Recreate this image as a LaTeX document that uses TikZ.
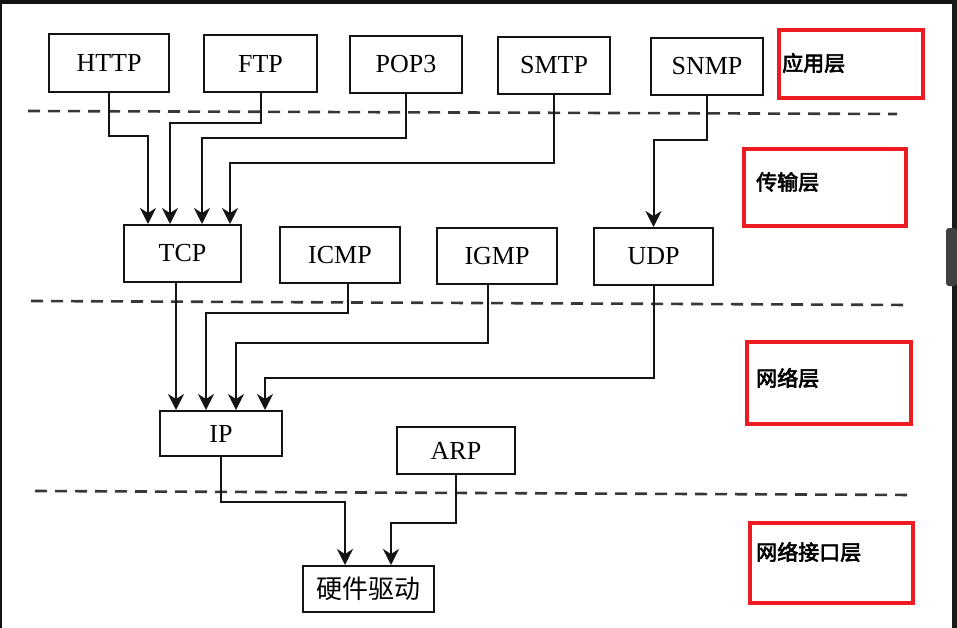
\documentclass[tikz,border=0pt]{standalone}
\usepackage{fontspec}
\setmainfont{Liberation Serif}
\newfontfamily\cjkb[FakeBold=3]{Noto Sans CJK SC}
\newfontfamily\cjk{Noto Sans CJK SC}
\usetikzlibrary{arrows.meta}
\definecolor{redbox}{RGB}{237,28,36}
\definecolor{ink}{RGB}{20,20,20}
\begin{document}
\begin{tikzpicture}[x=1pt,y=-1pt,
  box/.style={draw=ink, line width=2pt, inner sep=0pt, font=\fontsize{26}{26}\selectfont},
  conn/.style={draw=ink, line width=2pt, -{Stealth[length=16pt,width=16pt,inset=5pt]}},
  layerline/.style={draw=ink!85, line width=2.6pt, dash pattern=on 12pt off 8pt},
  redframe/.style={draw=redbox, line width=4pt},
  layerlabel/.style={anchor=west, inner sep=0pt, font=\cjkb\fontsize{21}{21}\selectfont}]
\useasboundingbox (0,0) rectangle (957,628);
\fill[white] (0,0) rectangle (957,628);
% screenshot frame
\fill[black!93] (0,0) rectangle (957,4);
\fill[black!93] (0,0) rectangle (2,628);
\fill[black!90] (952,0) rectangle (957,628);
\fill[black!75, rounded corners=3pt] (946,228) rectangle (957,286);

% layer separators
\draw[layerline] (28,111) -- (897,114);
\draw[layerline] (31,301) -- (910,305);
\draw[layerline] (35,491) -- (914,495);

% application layer
\node[box, minimum width=120pt, minimum height=58pt] (http) at (109,63) {HTTP};
\node[box, minimum width=113pt, minimum height=57pt] (ftp) at (260.5,63.5) {FTP};
\node[box, minimum width=112pt, minimum height=57pt] (pop) at (406,64.5) {POP3};
\node[box, minimum width=112pt, minimum height=57pt] (smtp) at (554,65.5) {SMTP};
\node[box, minimum width=112pt, minimum height=57pt] (snmp) at (707,66.5) {SNMP};

% transport layer
\node[box, minimum width=117pt, minimum height=57pt] (tcp) at (182.5,253.5) {TCP};
\node[box, minimum width=120pt, minimum height=56pt] (icmp) at (340,255) {ICMP};
\node[box, minimum width=120pt, minimum height=56pt] (igmp) at (497,256) {IGMP};
\node[box, minimum width=119pt, minimum height=57pt] (udp) at (653.5,256.5) {UDP};

% network layer
\node[box, minimum width=122pt, minimum height=45pt] (ip) at (221,433.5) {IP};
\node[box, minimum width=118pt, minimum height=47pt] (arp) at (456,450.5) {ARP};

% interface layer
\node[box, minimum width=131pt, minimum height=46pt, font=\cjk\fontsize{26}{26}\selectfont] (hw) at (368.5,589) {硬件驱动};

% connectors to TCP
\draw[conn] (http.south) -- (http.south |- 0,136) -| ([xshift=-34.5pt]tcp.north);
\draw[conn] (ftp.south) -- (ftp.south |- 0,123) -| ([xshift=-12.5pt]tcp.north);
\draw[conn] (pop.south) -- (pop.south |- 0,138) -| ([xshift=19.5pt]tcp.north);
\draw[conn] (smtp.south) -- (smtp.south |- 0,163) -| ([xshift=47.5pt]tcp.north);
% SNMP to UDP
\draw[conn] (snmp.south) -- (snmp.south |- 0,140) -| (udp.north);

% connectors to IP
\draw[conn] ([xshift=-6.5pt]tcp.south) -- ([xshift=-45pt]ip.north);
\draw[conn] ([xshift=8pt]icmp.south) -- ([xshift=8pt]icmp.south |- 0,313) -| ([xshift=-15pt]ip.north);
\draw[conn] ([xshift=-9pt]igmp.south) -- ([xshift=-9pt]igmp.south |- 0,343) -| ([xshift=15pt]ip.north);
\draw[conn] (udp.south) -- (udp.south |- 0,378) -| ([xshift=44pt]ip.north);

% connectors to hardware driver
\draw[conn] (ip.south) -- (ip.south |- 0,502) -| ([xshift=-23.5pt]hw.north);
\draw[conn] (arp.south) -- (arp.south |- 0,523) -| ([xshift=22.5pt]hw.north);

% layer labels
\draw[redframe] (779,30) rectangle (923,98);
\node[layerlabel] (l1) at (782,63) {应用层};
\draw[redframe] (744,149) rectangle (906,226);
\node[layerlabel] (l2) at (756,182) {传输层};
\draw[redframe] (747,342) rectangle (911,424);
\node[layerlabel] (l3) at (756,378) {网络层};
\draw[redframe] (750,523) rectangle (913,603);
\node[layerlabel] (l4) at (756,552) {网络接口层};
\end{tikzpicture}
\end{document}
